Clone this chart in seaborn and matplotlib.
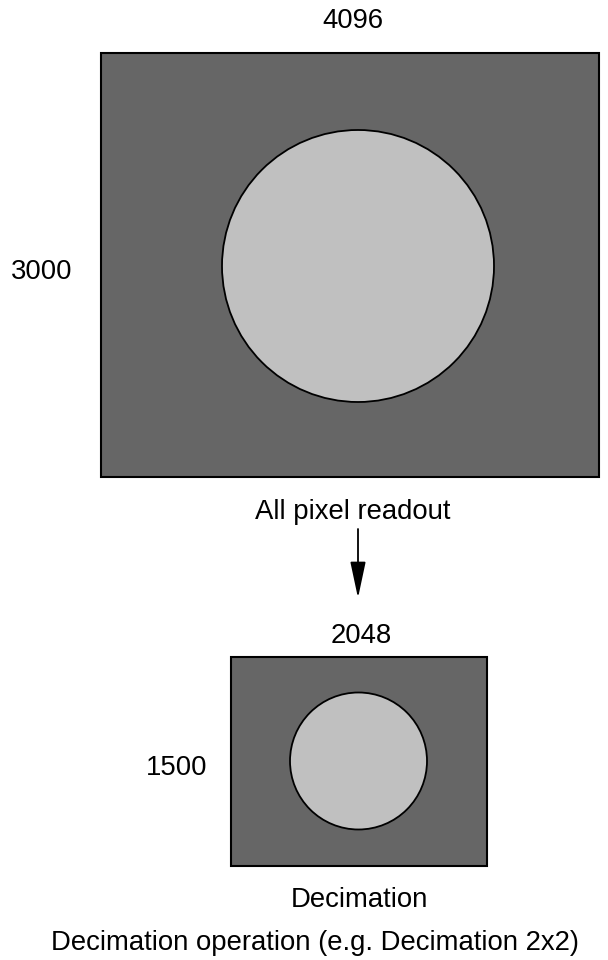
import matplotlib
matplotlib.use("Agg")
import matplotlib.pyplot as plt
import seaborn as sns
from matplotlib.patches import Rectangle, Circle

# Diagram content
widths = [4096, 2048]
heights = [3000, 1500]
captions = ["All pixel readout", "Decimation"]
title = "Decimation operation (e.g. Decimation 2x2)"

# Layout in pixel space
boxes = [(101, 53, 599, 477), (231, 657, 487, 866)]   # x0, y0, x1, y1
circles = [(358, 266, 136), (358.5, 761, 68.5)]       # cx, cy, r
width_pos = [(353, 28), (361, 643)]
height_pos = [(42, 279), (177, 775)]
caption_pos = [(353, 519), (359, 907)]

sns.set_theme(style="white")
plt.rcParams['font.family'] = ['Liberation Sans', 'DejaVu Sans']

fig = plt.figure(figsize=(6.08, 9.6), dpi=100)
ax = fig.add_axes([0, 0, 1, 1])
ax.set_xlim(0, 608)
ax.set_ylim(960, 0)
ax.axis("off")

fs = 19.8
for i in range(2):
    x0, y0, x1, y1 = boxes[i]
    ax.add_patch(Rectangle((x0, y0), x1 - x0, y1 - y0, facecolor="#666666",
                           edgecolor="black", linewidth=1.5))
    cx, cy, r = circles[i]
    ax.add_patch(Circle((cx, cy), r, facecolor="#c0c0c0", edgecolor="black",
                        linewidth=1.3))
    ax.text(*width_pos[i], str(widths[i]), ha="center", va="baseline",
            fontsize=fs, color="black")
    ax.text(*height_pos[i], str(heights[i]), ha="center", va="baseline",
            fontsize=fs, color="black")
    ax.text(*caption_pos[i], captions[i], ha="center", va="baseline",
            fontsize=fs, color="black")

# arrow between the two frames
ax.annotate("", xy=(358, 598), xytext=(358, 529),
            arrowprops=dict(arrowstyle="-|>,head_length=0.8,head_width=0.17",
                            color="black", lw=1.3, mutation_scale=28,
                            shrinkA=0, shrinkB=0))
ax.text(315, 950, title, ha="center", va="baseline", fontsize=fs, color="black")

fig.savefig("out.png", dpi=100)
